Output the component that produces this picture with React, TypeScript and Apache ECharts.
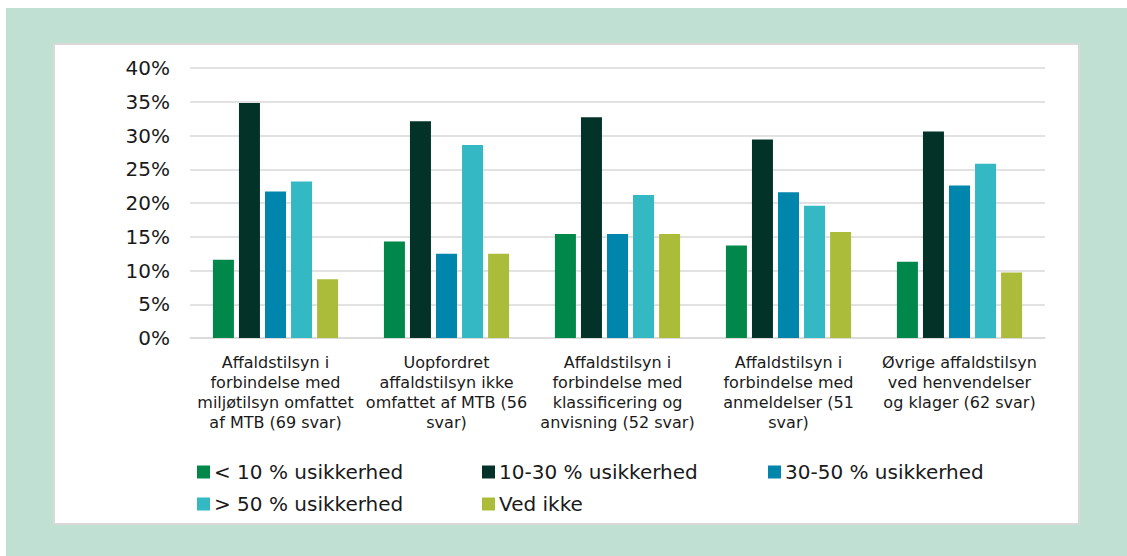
import React, { useEffect, useRef } from "react";
import * as echarts from "echarts";

const categories = [
  "Affaldstilsyn i\nforbindelse med\nmiljøtilsyn omfattet\naf MTB (69 svar)",
  "Uopfordret\naffaldstilsyn ikke\nomfattet af MTB (56\nsvar)",
  "Affaldstilsyn i\nforbindelse med\nklassificering og\nanvisning (52 svar)",
  "Affaldstilsyn i\nforbindelse med\nanmeldelser (51\nsvar)",
  "Øvrige affaldstilsyn\nved henvendelser\nog klager (62 svar)",
];

const seriesNames = [
  "< 10 % usikkerhed",
  "10-30 % usikkerhed",
  "30-50 % usikkerhed",
  "> 50 % usikkerhed",
  "Ved ikke",
];

const under10 = [0.116, 0.143, 0.154, 0.137, 0.113];
const from10to30 = [0.348, 0.321, 0.327, 0.294, 0.306];
const from30to50 = [0.217, 0.125, 0.154, 0.216, 0.226];
const over50 = [0.232, 0.286, 0.212, 0.196, 0.258];
const vedIkke = [0.087, 0.125, 0.154, 0.157, 0.097];

const seriesValues = [under10, from10to30, from30to50, over50, vedIkke];
const colors = ["#00884a", "#033328", "#0085ad", "#34b8c4", "#abbc3a"];

const yTicks = { min: 0, max: 0.4, interval: 0.05 };

const FONT = "DejaVu Sans";
const TEXT = "#1a1a1a";

export default function App() {
  const ref = useRef<HTMLDivElement>(null);
  useEffect(() => {
    if (!ref.current) return;
    const chart = echarts.init(ref.current, undefined, { renderer: "svg" });
    const legendPos = [
      { left: 197, top: 460 },
      { left: 482, top: 460 },
      { left: 768, top: 460 },
      { left: 197, top: 492 },
      { left: 482, top: 492 },
    ];
    chart.setOption({
      animation: false,
      graphic: [
        {
          type: "rect",
          z: -10,
          silent: true,
          shape: { x: 6, y: 8, width: 1121, height: 548 },
          style: { fill: "#bfe0d2" },
        },
        {
          type: "rect",
          z: -9,
          silent: true,
          shape: { x: 54, y: 44, width: 1025, height: 480 },
          style: { fill: "#ffffff", stroke: "#d9d9d9", lineWidth: 2 },
        },
      ],
      legend: seriesNames.map((n, i) => ({
        data: [n],
        left: legendPos[i].left,
        top: legendPos[i].top,
        orient: "horizontal",
        icon: "rect",
        itemWidth: 13,
        itemHeight: 13,
        padding: 0,
        selectedMode: false,
        textStyle: {
          fontFamily: FONT,
          fontSize: 20,
          color: TEXT,
          lineHeight: 24,
          padding: [0, 0, 0, -1],
        },
      })),
      grid: { left: 190, right: 82, top: 68, bottom: 218, containLabel: false },
      xAxis: {
        type: "category",
        data: categories,
        axisLine: { show: true, lineStyle: { color: "#d9d9d9", width: 1.5 } },
        axisTick: { show: false },
        axisLabel: {
          interval: 0,
          margin: 14,
          fontFamily: FONT,
          fontSize: 16,
          lineHeight: 20,
          color: TEXT,
          align: "center",
        },
      },
      yAxis: {
        type: "value",
        min: yTicks.min,
        max: yTicks.max,
        interval: yTicks.interval,
        axisLine: { show: false },
        axisTick: { show: false },
        splitLine: { show: true, lineStyle: { color: "#d9d9d9", width: 1.5 } },
        axisLabel: {
          margin: 20,
          fontFamily: FONT,
          fontSize: 20,
          color: TEXT,
          formatter: (v: number) => Math.round(v * 100) + "%",
        },
      },
      series: seriesNames.map((n, i) => ({
        name: n,
        type: "bar",
        data: seriesValues[i],
        barWidth: 21,
        barGap: "24%",
        itemStyle: { color: colors[i] },
      })),
    });
    return () => chart.dispose();
  }, []);
  return (
    <div
      ref={ref}
      style={{ position: "absolute", left: 0, top: 0, width: 1127, height: 556 }}
    />
  );
}
